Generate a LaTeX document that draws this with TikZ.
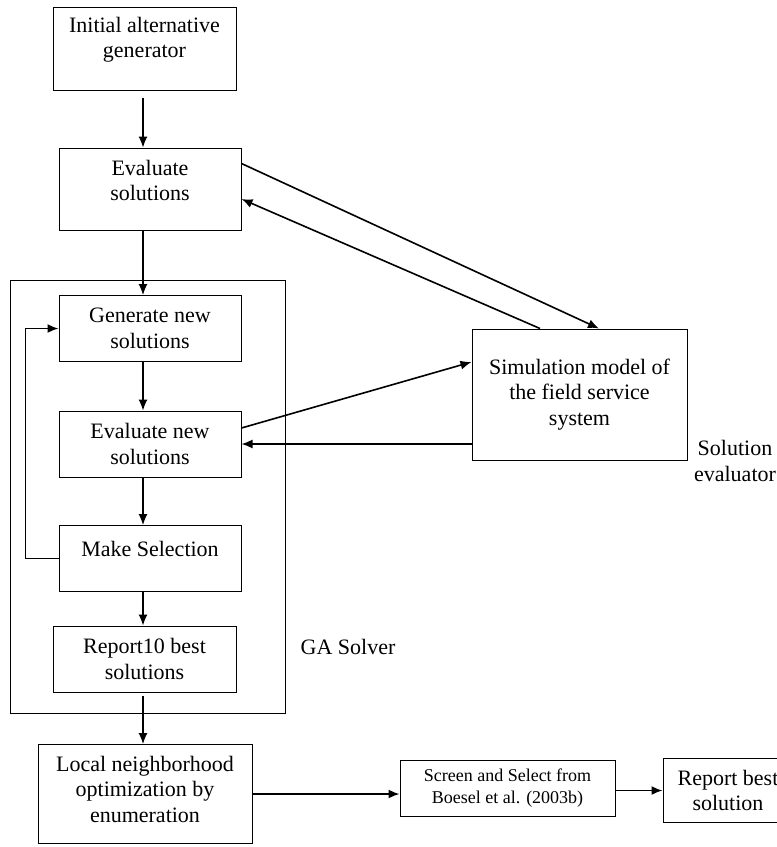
\documentclass[tikz,border=0pt]{standalone}
\usepackage{fontspec}
\setmainfont{Liberation Serif}
\usetikzlibrary{positioning,arrows.meta}

\begin{document}
\begin{tikzpicture}[
x=1pt, y=-1pt, box/.style={rectangle, draw, line width=1pt, align=center, minimum width=182pt, minimum height=66pt, inner sep=2pt, font=\fontsize{22}{25.5}\selectfont}, smallbox/.style={box, minimum width=215pt, minimum height=56pt, font=\fontsize{18}{22}\selectfont}, arrow/.style={-{Latex[length=11pt,width=9pt]}, line width=1.2pt}, boldarrow/.style={arrow, line width=1.6pt}, tag/.style={align=center, inner sep=0pt, font=\fontsize{22}{25.5}\selectfont} ]
\useasboundingbox (0,0) rectangle (777,847);
\clip (0,0) rectangle (777,847);
\node[draw, line width=1pt, minimum width=275pt, minimum height=433pt] (gabox) at (147.5,496.5) {};
\node[box, minimum width=183pt, minimum height=83pt, text depth=22pt] (init) at (144.5,48.5) {Initial alternative\\generator};
\node[box, minimum height=82pt, text depth=17pt, below=57pt of init, xshift=5.5pt] (eval) {Evaluate\\solutions};
\node[box, below=64.5pt of eval] (gen) {Generate new\\solutions};
\node[box, below=48.5pt of gen] (evalnew) {Evaluate new\\solutions};
\node[box, text depth=20pt, below=47.5pt of evalnew] (select) {Make Selection};
\node[box, minimum width=183pt, below=33.5pt of select, xshift=-5.5pt] (report) {Report10 best\\solutions};
\node[box, minimum width=214pt, minimum height=99pt, text depth=10pt, below=51.5pt of report, xshift=0.5pt] (local) {Local neighborhood\\optimization by\\enumeration};
\node[smallbox, right=147pt of local, yshift=5.5pt] (screen) {Screen and Select from\\Boesel et al. (2003b)};
\node[box, minimum width=130pt, minimum height=64pt, right=47pt of screen, yshift=-2pt] (best) {Report best\\solution};
\node[box, minimum width=215pt, minimum height=131pt, right=230pt of evalnew, yshift=49.5pt] (sim) {Simulation model of\\the field service\\system};
\node[tag] (galabel) at (348,647) {GA Solver};
\node[tag] (evallabel) at (735,461) {Solution\\evaluator};
\coordinate (spine) at (143,0);
% main chain
\draw[arrow, shorten <=7pt] (init.south -| spine) -- (eval.north -| spine);
\draw[arrow] (eval.south -| spine) -- (gen.north -| spine);
\draw[arrow] (gen.south -| spine) -- (evalnew.north -| spine);
\draw[arrow] (evalnew.south -| spine) -- (select.north -| spine);
\draw[arrow] (select.south -| spine) -- (report.north -| spine);
\draw[arrow, shorten <=3pt] (report.south -| spine) -- (local.north -| spine);
\draw[boldarrow] (select.west) -- ++(-33,0) |- (gen.west);
% to and from the simulation model
\draw[boldarrow] ([yshift=-16pt]eval.north east) -- ([xshift=19.5pt]sim.north);
\draw[boldarrow] ([xshift=-39.5pt]sim.north) -- ([yshift=-10pt]eval.east);
\draw[boldarrow] ([yshift=16pt]evalnew.east) -- ([yshift=32.5pt]sim.west);
\draw[boldarrow] (sim.west |- evalnew.east) -- (evalnew.east);
% after the GA
\draw[boldarrow] (local.east) -- (local.east -| screen.west);
\draw[boldarrow] (best.west -| screen.east) -- (best.west);
\end{tikzpicture}
\end{document}
